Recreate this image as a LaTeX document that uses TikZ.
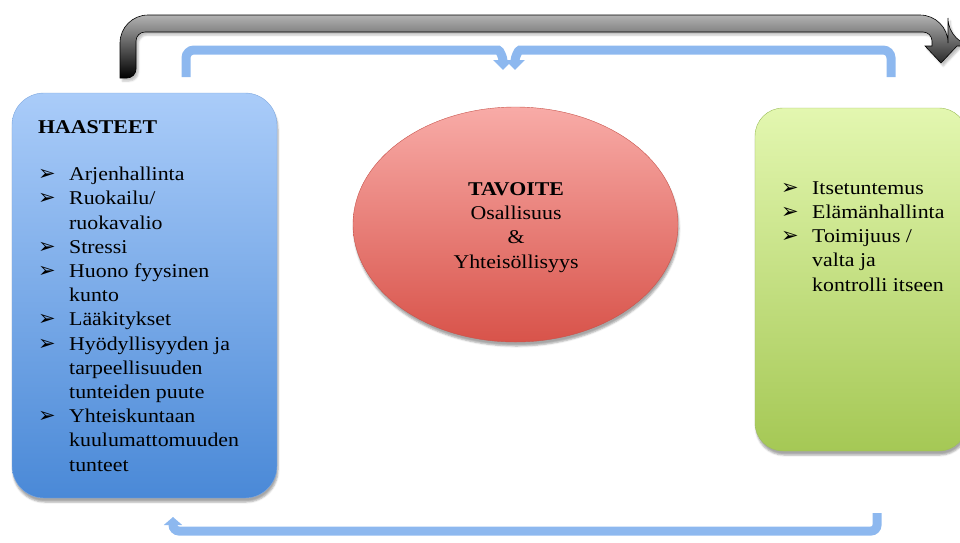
\documentclass[tikz,border=0pt]{standalone}
\usepackage{fontspec}
\setmainfont{Liberation Serif}[FakeStretch=1.12]
\newfontfamily\merkit{DejaVu Sans}
\usetikzlibrary{shapes.geometric,shadows.blur,arrows.meta}

\definecolor{sininenY}{HTML}{AACCF9}
\definecolor{sininenA}{HTML}{4A89D7}
\definecolor{reunasin}{HTML}{7FA8DF}
\definecolor{vihreaY}{HTML}{E3F7B0}
\definecolor{vihreaA}{HTML}{A5C855}
\definecolor{reunavih}{HTML}{9DBE5C}
\definecolor{punainenY}{HTML}{F8ABA7}
\definecolor{punainenA}{HTML}{D8534A}
\definecolor{reunapun}{HTML}{C8544C}
\definecolor{nuolisin}{HTML}{8DB8EF}

\newcommand{\kohta}{\makebox[31pt][l]{{\merkit\bfseries\fontsize{21}{21}\selectfont ➢}}}
\newcommand{\jatko}{\hspace*{31pt}}

\begin{document}
\begin{tikzpicture}[x=1pt, y=-1pt]
  \tikzstyle{laatikko}=[draw, rounded corners=32pt, inner sep=0, blur shadow={shadow yshift=-4pt, shadow xshift=1pt, shadow opacity=35}];
  \tikzstyle{teksti}=[inner sep=0, align=left, anchor=base west, font=\fontsize{19.5}{24.2}\selectfont];
  \tikzstyle{sininuoli}=[draw=nuolisin, line width=9pt, -{Triangle[width=19pt,length=10pt]}, rounded corners=8pt];

  \useasboundingbox (0,0) rectangle (960,542);

  % laatikot
  \node[laatikko, draw=reunasin, top color=sininenY, bottom color=sininenA, minimum width=265pt, minimum height=405pt] (haasteet) at (144.5,295.5) {};
  \node[ellipse, draw=reunapun, top color=punainenY, bottom color=punainenA, minimum width=325pt, minimum height=235pt, inner sep=0, blur shadow={shadow yshift=-4pt, shadow xshift=1pt, shadow opacity=35}] (tavoite) at (515.5,224.5) {};
  \node[laatikko, draw=reunavih, top color=vihreaY, bottom color=vihreaA, rounded corners=28pt, minimum width=212pt, minimum height=343pt] (keinot) at (861,279.5) {};

  % musta nuoli
  \shade[top color=gray!60, bottom color=black, draw=black, line width=0.6pt, blur shadow={shadow yshift=-3pt, shadow opacity=25}]
    (120,78) [rounded corners=28pt] -- (120,15) -- (948,15) -- (948,46)
    [sharp corners] -- (957,46) -- (941,63) -- (925,46) -- (932,46)
    [rounded corners=9pt] -- (932,32) -- (136,32) -- (136,78)
    [sharp corners] -- cycle;

  % siniset nuolet
  \coordinate (vasenalku) at (186,77);
  \coordinate (vasenkarki) at (503,70);
  \coordinate (oikeaalku) at (891,77);
  \coordinate (oikeakarki) at (515,70);
  \coordinate (alaalku) at (877,513);
  \coordinate (alakarki) at (173,517);

  \draw[sininuoli] (vasenalku) -- (186,50) -- (490,50) .. controls (500,50) and (503,58) .. (vasenkarki);
  \draw[sininuoli] (oikeaalku) -- (891,50) -- (528,50) .. controls (518,50) and (515,58) .. (oikeakarki);
  \draw[sininuoli, rounded corners=6pt, -{Triangle[width=18pt,length=8pt]}] (alaalku) -- (877,531) -- (173,531) -- (alakarki);

  % tekstit (ankkuri viimeisen rivin pohjaviivalla)
  \node[teksti] (haasteotsikko) at (38,133) {\textbf{HAASTEET}};
  \node[teksti] (haastelista) at (38,471) {\kohta Arjenhallinta\\
    \kohta Ruokailu/\\
    \jatko ruokavalio\\
    \kohta Stressi\\
    \kohta Huono fyysinen\\
    \jatko kunto\\
    \kohta Lääkitykset\\
    \kohta Hyödyllisyyden ja\\
    \jatko tarpeellisuuden\\
    \jatko tunteiden puute\\
    \kohta Yhteiskuntaan\\
    \jatko kuulumattomuuden\\
    \jatko tunteet};
  \node[teksti, align=center, anchor=base] (tavoiteteksti) at (516,268) {\textbf{TAVOITE}\\
    Osallisuus\\
    \&\\
    Yhteisöllisyys};
  \node[teksti] (keinolista) at (781,291) {\kohta Itsetuntemus\\
    \kohta Elämänhallinta\\
    \kohta Toimijuus /\\
    \jatko valta ja\\
    \jatko kontrolli itseen};
\end{tikzpicture}
\end{document}
